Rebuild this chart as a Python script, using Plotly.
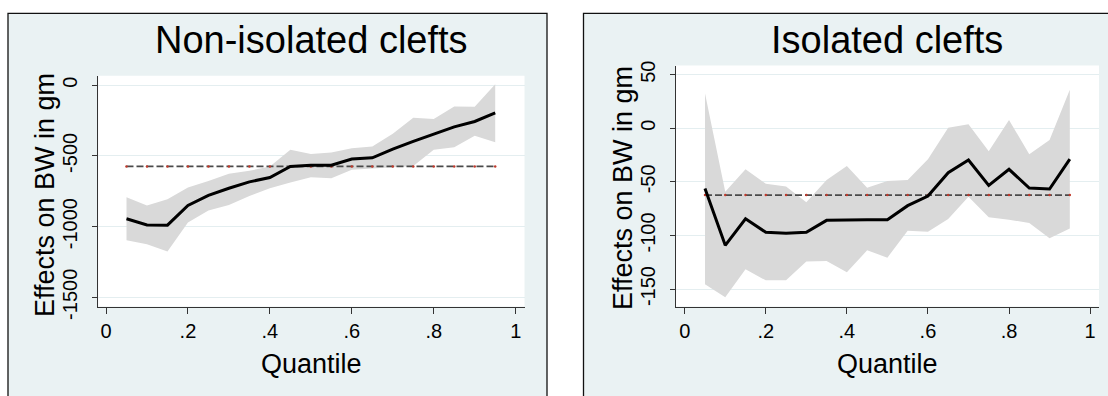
import plotly.graph_objects as go

# ---------------- data ----------------
quantiles = [0.05, 0.10, 0.15, 0.20, 0.25, 0.30, 0.35, 0.40, 0.45, 0.50,
             0.55, 0.60, 0.65, 0.70, 0.75, 0.80, 0.85, 0.90, 0.95]

# Non-isolated clefts
coef_non = [-945, -988, -990, -851, -780, -729, -684, -653, -575, -566,
            -566, -523, -514, -453, -398, -347, -295, -257, -196]
upper_non = [-792, -851, -806, -724, -677, -627, -606, -575, -457, -486,
             -476, -446, -434, -344, -231, -240, -151, -153, 7]
lower_non = [-1096, -1125, -1177, -971, -887, -847, -783, -729, -689, -651,
             -658, -599, -590, -580, -571, -457, -439, -358, -403]
ols_non = -575

# Isolated clefts
coef_iso = [-56.1, -109.2, -84.4, -97.1, -98.0, -97.1, -85.9, -85.3, -85.3, -85.3,
            -72.2, -63.2, -41.4, -29.6, -53.3, -38.3, -55.7, -56.7, -28.7]
upper_iso = [32.6, -59.2, -38.3, -51.7, -54.2, -69.1, -48.3, -35.2, -55.4, -49.2,
             -48.3, -29.0, 0.5, 3.7, -21.5, 7.7, -24.3, -11.0, 36.0]
lower_iso = [-145.6, -157.7, -131.6, -141.9, -141.9, -124.2, -123.9, -134.4, -113.9, -120.7,
             -95.5, -96.5, -84.7, -63.8, -83.1, -85.3, -88.4, -102.7, -93.4]
ols_iso = -62.3

titles = ["Non-isolated clefts", "Isolated clefts"]
x_ticks = [0, 0.2, 0.4, 0.6, 0.8, 1]
x_ticktext = ["0", ".2", ".4", ".6", ".8", "1"]
y_ticks_non = [0, -500, -1000, -1500]
y_ticks_iso = [50, 0, -50, -100, -150]

# ---------------- styling ----------------
W, H = 1108, 396
FONT = "Liberation Sans, Arial, sans-serif"
PANEL_BG = "#EAF2F3"
BAND = "#D9D9D9"
GRID = "#E4EEF0"
AXIS = "#333333"


def px(x):
    return x / W


def py(y):
    return 1 - y / H


fig = go.Figure()

panels = [
    dict(coef=coef_non, up=upper_non, lo=lower_non, ols=ols_non, xa="x", ya="y"),
    dict(coef=coef_iso, up=upper_iso, lo=lower_iso, ols=ols_iso, xa="x2", ya="y2"),
]

for p in panels:
    fig.add_trace(go.Scatter(x=quantiles, y=p["lo"], mode="lines", line=dict(width=0),
                             hoverinfo="skip", showlegend=False, xaxis=p["xa"], yaxis=p["ya"]))
    fig.add_trace(go.Scatter(x=quantiles, y=p["up"], mode="lines", line=dict(width=0),
                             fill="tonexty", fillcolor=BAND,
                             hoverinfo="skip", showlegend=False, xaxis=p["xa"], yaxis=p["ya"]))
    ols_line = [p["ols"] for _ in quantiles]
    fig.add_trace(go.Scatter(x=quantiles, y=ols_line, mode="lines",
                             line=dict(color="#4a4a4a", width=1.8, dash="7px,3px"),
                             showlegend=False, xaxis=p["xa"], yaxis=p["ya"]))
    fig.add_trace(go.Scatter(x=quantiles, y=ols_line, mode="markers",
                             marker=dict(color="#c0392b", size=2.5),
                             showlegend=False, xaxis=p["xa"], yaxis=p["ya"]))
    fig.add_trace(go.Scatter(x=quantiles, y=p["coef"], mode="lines",
                             line=dict(color="black", width=3),
                             showlegend=False, xaxis=p["xa"], yaxis=p["ya"]))

common_x = dict(tickmode="array", tickvals=x_ticks, ticktext=x_ticktext,
                ticks="outside", ticklen=6, tickwidth=1, tickcolor=AXIS,
                showline=True, linecolor=AXIS, linewidth=1, mirror=False,
                showgrid=False, zeroline=False, automargin=False,
                tickfont=dict(family=FONT, size=20, color="black"))
common_y = dict(ticks="outside", ticklen=5, tickwidth=1, tickcolor=AXIS,
                showline=True, linecolor=AXIS, linewidth=1,
                showgrid=True, gridcolor=GRID, gridwidth=1.2, zeroline=False,
                tickangle=-90, tickmode="array", ticklabelstandoff=7, automargin=False,
                tickfont=dict(family=FONT, size=20, color="black"))

fig.update_layout(
    width=W, height=H,
    margin=dict(l=0, r=0, t=0, b=0),
    paper_bgcolor="white",
    plot_bgcolor="rgba(0,0,0,0)",
    xaxis=dict(domain=[px(98.3), px(524.5)], range=[-0.0188, 1.0215], anchor="y", **common_x),
    yaxis=dict(domain=[py(306.5), py(75.8)], range=[-1565, 66], anchor="x",
               tickvals=y_ticks_non, ticktext=[str(v) for v in y_ticks_non], **common_y),
    xaxis2=dict(domain=[px(676), px(1099)], range=[-0.0215, 1.022], anchor="y2", **common_x),
    yaxis2=dict(domain=[py(306.5), py(65.5)], range=[-166.3, 58.6], anchor="x2",
                tickvals=y_ticks_iso, ticktext=[str(v) for v in y_ticks_iso], **common_y),
    showlegend=False,
)

shapes = []
# panel backgrounds with frames
shapes.append(dict(type="rect", xref="paper", yref="paper", layer="below",
                   x0=px(8), x1=px(547), y0=-0.1, y1=py(13.3),
                   fillcolor=PANEL_BG, line=dict(color="#111111", width=1.3)))
shapes.append(dict(type="rect", xref="paper", yref="paper", layer="below",
                   x0=px(583.5), x1=1.1, y0=-0.1, y1=py(13.3),
                   fillcolor=PANEL_BG, line=dict(color="#111111", width=1.3)))
# white plot regions
shapes.append(dict(type="rect", xref="paper", yref="paper", layer="below",
                   x0=px(98.3), x1=px(524.5), y0=py(306.5), y1=py(75.8),
                   fillcolor="white", line=dict(width=0)))
shapes.append(dict(type="rect", xref="paper", yref="paper", layer="below",
                   x0=px(676), x1=px(1099), y0=py(306.5), y1=py(65.5),
                   fillcolor="white", line=dict(width=0)))
fig.update_layout(shapes=shapes)

ann = []
for cx, t in [(311, titles[0]), (887.5, titles[1])]:
    ann.append(dict(text=t, x=px(cx), y=py(40), xref="paper", yref="paper",
                    xanchor="center", yanchor="middle", showarrow=False,
                    font=dict(family=FONT, size=38, color="black")))
for cx in [311, 887.5]:
    ann.append(dict(text="Quantile", x=px(cx), y=py(364), xref="paper", yref="paper",
                    xanchor="center", yanchor="middle", showarrow=False,
                    font=dict(family=FONT, size=27, color="black")))
for cx, cy in [(45, 195), (623, 188)]:
    ann.append(dict(text="Effects on BW in gm", x=px(cx), y=py(cy), xref="paper", yref="paper",
                    xanchor="center", yanchor="middle", showarrow=False, textangle=-90,
                    font=dict(family=FONT, size=27, color="black")))
fig.update_layout(annotations=ann)

fig.write_html("out.html", config={"displayModeBar": False},
               post_script="document.body.style.margin='0';")
